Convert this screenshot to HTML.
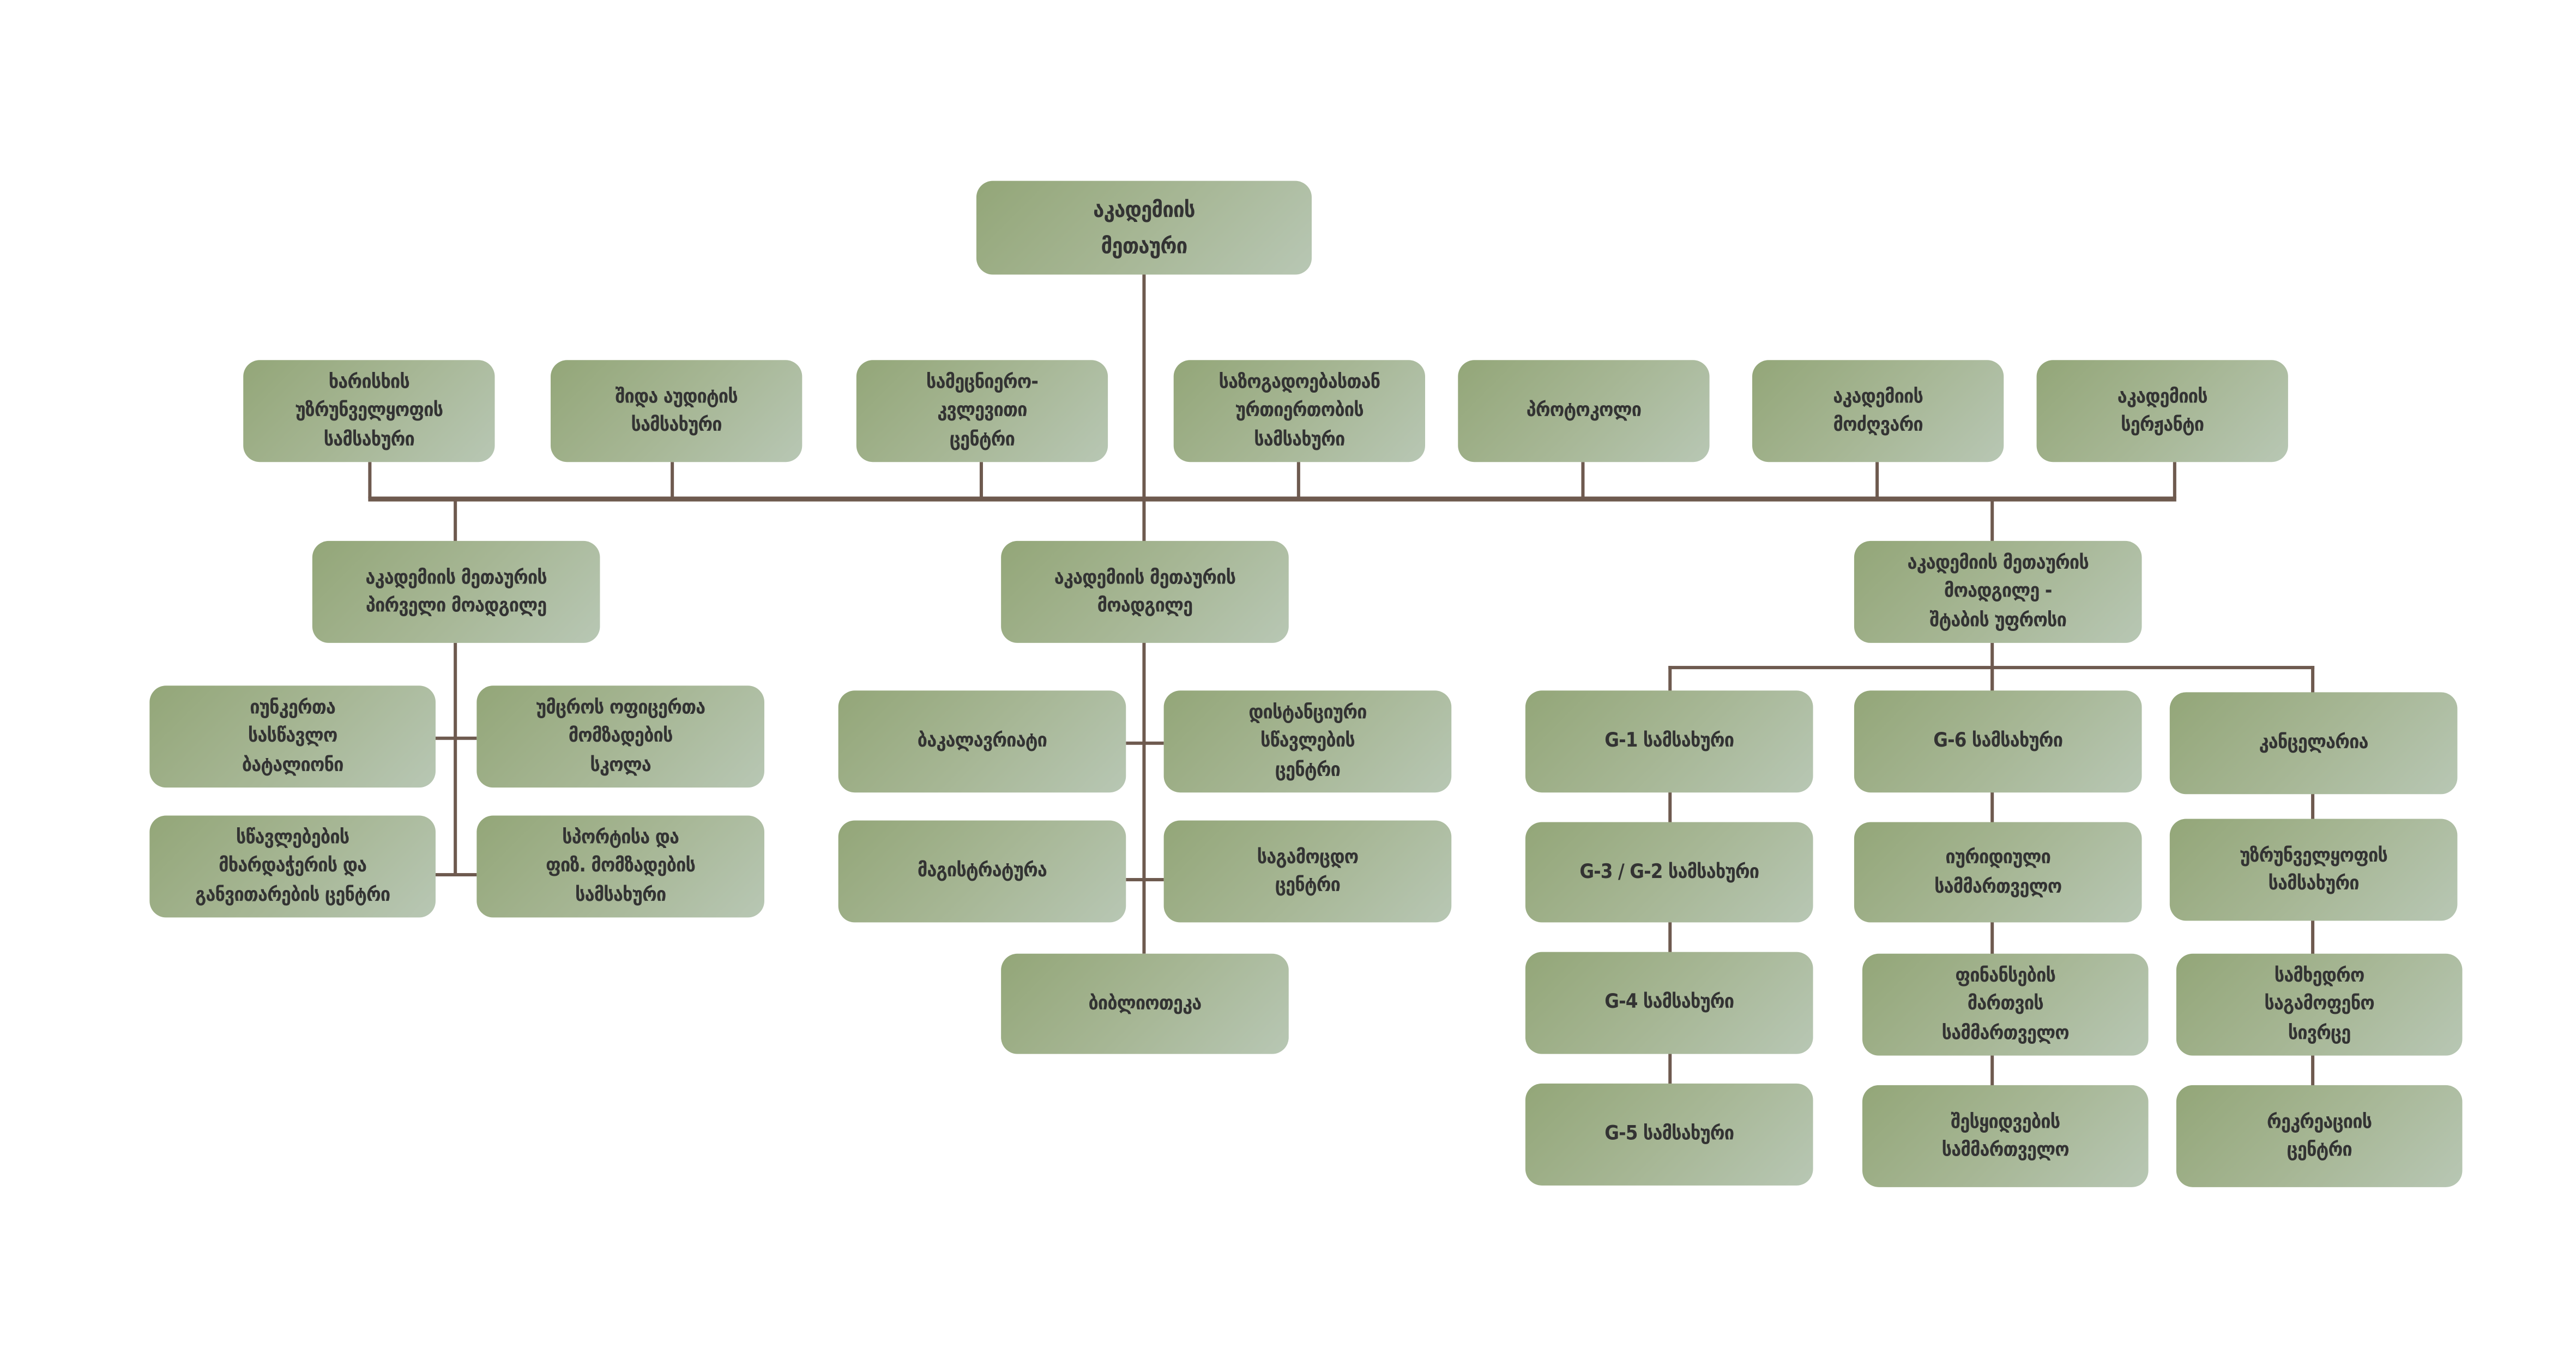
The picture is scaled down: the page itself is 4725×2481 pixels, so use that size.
<!DOCTYPE html>
<html><head><meta charset="utf-8"><style>
html,body{margin:0;padding:0;background:#fff;width:4725px;height:2481px;overflow:hidden}
#w{position:absolute;left:0;top:0;width:1570px;height:823px;transform:scale(3.015);transform-origin:0 0}
.b{position:absolute;box-sizing:border-box;border-radius:10px;background:linear-gradient(135deg,#93a678 0%,#a6b694 50%,#b8c7b4 100%);display:flex;align-items:center;justify-content:center;text-align:center;font-family:"DejaVu Sans Condensed","DejaVu Sans","Liberation Sans",sans-serif;font-weight:bold;font-size:12px;line-height:17.5px;color:#333;letter-spacing:-0.3px}
.l{position:absolute;background:#6e5a4f}
</style></head><body><div id="w">
<div class="l" style="left:695px;top:167px;width:2px;height:413px"></div>
<div class="l" style="left:224px;top:302px;width:1100px;height:3px"></div>
<div class="l" style="left:224px;top:281px;width:2px;height:22px"></div>
<div class="l" style="left:408px;top:281px;width:2px;height:22px"></div>
<div class="l" style="left:596px;top:281px;width:2px;height:22px"></div>
<div class="l" style="left:789px;top:281px;width:2px;height:22px"></div>
<div class="l" style="left:962px;top:281px;width:2px;height:22px"></div>
<div class="l" style="left:1141px;top:281px;width:2px;height:22px"></div>
<div class="l" style="left:1322px;top:281px;width:2px;height:22px"></div>
<div class="l" style="left:276px;top:304px;width:2px;height:25px"></div>
<div class="l" style="left:1211px;top:304px;width:2px;height:25px"></div>
<div class="l" style="left:276px;top:391px;width:2px;height:142px"></div>
<div class="l" style="left:265px;top:448px;width:25px;height:2px"></div>
<div class="l" style="left:265px;top:531px;width:25px;height:2px"></div>
<div class="l" style="left:685px;top:451px;width:23px;height:2px"></div>
<div class="l" style="left:685px;top:534px;width:23px;height:2px"></div>
<div class="l" style="left:1211px;top:391px;width:2px;height:30px"></div>
<div class="l" style="left:1015px;top:405px;width:393px;height:2px"></div>
<div class="l" style="left:1015px;top:405px;width:2px;height:300px"></div>
<div class="l" style="left:1211px;top:405px;width:2px;height:300px"></div>
<div class="l" style="left:1406px;top:405px;width:2px;height:300px"></div>

<div class="b" style="left:594px;top:110px;width:204px;height:57px;font-size:13.5px;line-height:22px">აკადემიის<br>მეთაური</div>
<div class="b" style="left:148px;top:219px;width:153px;height:62px">ხარისხის<br>უზრუნველყოფის<br>სამსახური</div>
<div class="b" style="left:335px;top:219px;width:153px;height:62px">შიდა აუდიტის<br>სამსახური</div>
<div class="b" style="left:521px;top:219px;width:153px;height:62px">სამეცნიერო-<br>კვლევითი<br>ცენტრი</div>
<div class="b" style="left:714px;top:219px;width:153px;height:62px">საზოგადოებასთან<br>ურთიერთობის<br>სამსახური</div>
<div class="b" style="left:887px;top:219px;width:153px;height:62px">პროტოკოლი</div>
<div class="b" style="left:1066px;top:219px;width:153px;height:62px">აკადემიის<br>მოძღვარი</div>
<div class="b" style="left:1239px;top:219px;width:153px;height:62px">აკადემიის<br>სერჟანტი</div>

<div class="b" style="left:190px;top:329px;width:175px;height:62px">აკადემიის მეთაურის<br>პირველი მოადგილე</div>
<div class="b" style="left:609px;top:329px;width:175px;height:62px">აკადემიის მეთაურის<br>მოადგილე</div>
<div class="b" style="left:1128px;top:329px;width:175px;height:62px">აკადემიის მეთაურის<br>მოადგილე -<br>შტაბის უფროსი</div>

<div class="b" style="left:91px;top:417px;width:174px;height:62px">იუნკერთა<br>სასწავლო<br>ბატალიონი</div>
<div class="b" style="left:290px;top:417px;width:175px;height:62px">უმცროს ოფიცერთა<br>მომზადების<br>სკოლა</div>
<div class="b" style="left:91px;top:496px;width:174px;height:62px">სწავლებების<br>მხარდაჭერის და<br>განვითარების ცენტრი</div>
<div class="b" style="left:290px;top:496px;width:175px;height:62px">სპორტისა და<br>ფიზ. მომზადების<br>სამსახური</div>

<div class="b" style="left:510px;top:420px;width:175px;height:62px">ბაკალავრიატი</div>
<div class="b" style="left:708px;top:420px;width:175px;height:62px">დისტანციური<br>სწავლების<br>ცენტრი</div>
<div class="b" style="left:510px;top:499px;width:175px;height:62px">მაგისტრატურა</div>
<div class="b" style="left:708px;top:499px;width:175px;height:62px">საგამოცდო<br>ცენტრი</div>
<div class="b" style="left:609px;top:580px;width:175px;height:61px">ბიბლიოთეკა</div>

<div class="b" style="left:928px;top:420px;width:175px;height:62px">G-1 სამსახური</div>
<div class="b" style="left:928px;top:500px;width:175px;height:61px">G-3 / G-2 სამსახური</div>
<div class="b" style="left:928px;top:579px;width:175px;height:62px">G-4 სამსახური</div>
<div class="b" style="left:928px;top:659px;width:175px;height:62px">G-5 სამსახური</div>

<div class="b" style="left:1128px;top:420px;width:175px;height:62px">G-6 სამსახური</div>
<div class="b" style="left:1128px;top:500px;width:175px;height:61px">იურიდიული<br>სამმართველო</div>
<div class="b" style="left:1133px;top:580px;width:174px;height:62px">ფინანსების<br>მართვის<br>სამმართველო</div>
<div class="b" style="left:1133px;top:660px;width:174px;height:62px">შესყიდვების<br>სამმართველო</div>

<div class="b" style="left:1320px;top:421px;width:175px;height:62px">კანცელარია</div>
<div class="b" style="left:1320px;top:498px;width:175px;height:62px">უზრუნველყოფის<br>სამსახური</div>
<div class="b" style="left:1324px;top:580px;width:174px;height:62px">სამხედრო<br>საგამოფენო<br>სივრცე</div>
<div class="b" style="left:1324px;top:660px;width:174px;height:62px">რეკრეაციის<br>ცენტრი</div>
</div></body></html>
